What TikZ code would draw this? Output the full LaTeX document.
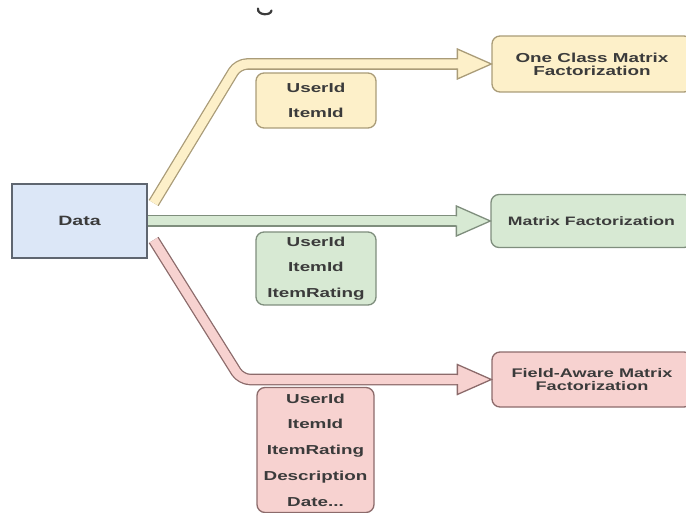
\documentclass[tikz,border=0pt]{standalone}
\usepackage{fontspec}
\usetikzlibrary{calc}
\newfontfamily\lbl[FakeStretch=1.45]{Liberation Sans}
\definecolor{txt}{HTML}{3B3B3B}
\definecolor{yfill}{HTML}{FDF0C9}
\definecolor{ydraw}{HTML}{AA9C78}
\definecolor{gfill}{HTML}{D7E9D3}
\definecolor{gdraw}{HTML}{7F8E7D}
\definecolor{rfill}{HTML}{F7D2D0}
\definecolor{rdraw}{HTML}{8C6B6B}
\definecolor{bfill}{HTML}{DCE7F7}
\definecolor{bdraw}{HTML}{5F6670}
\tikzset{
  box/.style={draw, line width=1.3pt, rounded corners=8pt, inner sep=0pt, align=center,
    text=txt, font=\lbl\bfseries\fontsize{12.5}{13}\selectfont},
  tag/.style={draw, line width=1.3pt, rounded corners=8pt, inner sep=0pt, align=center,
    text=txt, font=\lbl\bfseries\fontsize{13}{25.7}\selectfont},
}
% flex arrow: #1 fill, #2 border, #3 path
\newcommand{\flexshaft}[3]{%
  \draw[line width=11.6pt, #2, rounded corners=9pt, line join=round] #3;
  \draw[line width=9pt, #1, rounded corners=9pt, line join=round] #3;}
\newcommand{\flexhead}[4]{% #1 fill #2 border #3 base coordinate #4 tip coordinate
  \fill[#1] ($(#3)+(-0.6,-4.5)$) -- ($(#3)+(0,-4.5)$) -- ($(#3)+(0,-15)$) -- (#4) -- ($(#3)+(0,15)$) -- ($(#3)+(0,4.5)$) -- ($(#3)+(-0.6,4.5)$) -- cycle;
  \draw[#2, line width=1.3pt, line join=miter] ($(#3)+(0,-4.5)$) -- ($(#3)+(0,-15)$) -- (#4) -- ($(#3)+(0,15)$) -- ($(#3)+(0,4.5)$);}
\begin{document}
\begin{tikzpicture}[x=1pt, y=-1pt]
\useasboundingbox (0,0) rectangle (686,513);
\clip (0,0) rectangle (686,513);
% cut-off fragment at top (bottom stroke of a cropped glyph)
\draw[txt, line width=2.2pt, line cap=round] (258,8.5) .. controls (257,15.5) and (271,16) .. (271.5,10.5);

% main nodes
\node[draw=bdraw, fill=bfill, line width=1.3pt, minimum width=135pt, minimum height=74pt,
  text=txt, font=\lbl\bfseries\fontsize{13.5}{13}\selectfont] (data) at (79.5,221) {Data};
\node[box, draw=ydraw, fill=yfill, minimum width=200pt, minimum height=56pt, font=\lbl\bfseries\fontsize{13}{13}\selectfont] (ocmf) at (592,64) {One Class Matrix\\Factorization};
\node[box, draw=gdraw, fill=gfill, minimum width=201pt, minimum height=53pt, font=\lbl\bfseries\fontsize{12.2}{13}\selectfont] (mf) at (591.5,221) {Matrix Factorization};
\node[box, draw=rdraw, fill=rfill, minimum width=200pt, minimum height=55pt] (famf) at (592,379.5) {Field-Aware Matrix\\Factorization};

% label boxes
\node[tag, draw=ydraw, fill=yfill, minimum width=120pt, minimum height=55pt] (l1) at (316,100.5) {UserId\\ItemId};
\node[tag, draw=gdraw, fill=gfill, minimum width=120pt, minimum height=73pt] (l2) at (316,268.5) {UserId\\ItemId\\ItemRating};
\node[tag, draw=rdraw, fill=rfill, minimum width=117pt, minimum height=125pt] (l3) at (315.5,450) {UserId\\ItemId\\ItemRating\\Description\\Date...};

% arrow geometry
\coordinate (ys) at ($(data.east)+(6,-18)$);
\coordinate (yk) at (238,64);
\coordinate (yb) at ($(ocmf.west)+(-34,0)$);
\coordinate (gs) at (data.east);
\coordinate (gb) at ($(mf.west)+(-34,0)$);
\coordinate (rs) at ($(data.east)+(6,19)$);
\coordinate (rk) at (241,379.5);
\coordinate (rb) at ($(famf.west)+(-34,0)$);

% yellow arrow
\flexshaft{yfill}{ydraw}{(ys) -- (yk) -- (yb)}
\flexhead{yfill}{ydraw}{yb}{ocmf.west}
% green arrow
\flexshaft{gfill}{gdraw}{(gs) -- (gb)}
\flexhead{gfill}{gdraw}{gb}{mf.west}
% red arrow
\flexshaft{rfill}{rdraw}{(rs) -- (rk) -- (rb)}
\flexhead{rfill}{rdraw}{rb}{famf.west}
\end{tikzpicture}
\end{document}
